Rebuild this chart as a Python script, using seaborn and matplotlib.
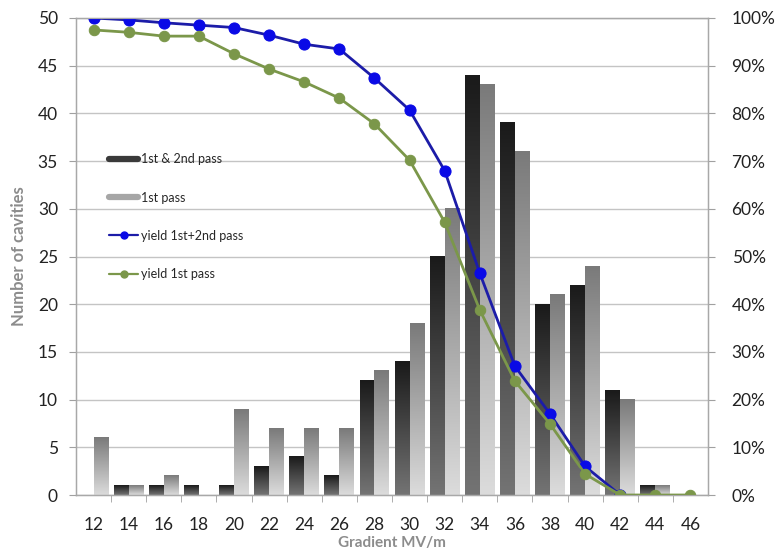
import numpy as np
import pandas as pd
import matplotlib
matplotlib.use("Agg")
import matplotlib.pyplot as plt
from matplotlib.colors import LinearSegmentedColormap
from matplotlib.lines import Line2D
import seaborn as sns

# ---- data ----
gradient = [12, 14, 16, 18, 20, 22, 24, 26, 28, 30, 32, 34, 36, 38, 40, 42, 44, 46]
both_pass = [0, 1, 1, 1, 1, 3, 4, 2, 12, 14, 25, 44, 39, 20, 22, 11, 1, 0]
first_pass = [6, 1, 2, 0, 9, 7, 7, 7, 13, 18, 30, 43, 36, 21, 24, 10, 1, 0]
yield_both_x = [12, 14, 16, 18, 20, 22, 24, 26, 28, 30, 32, 34, 36, 38, 40, 42]
yield_both = [100, 99.6, 99.0, 98.5, 98.0, 96.4, 94.5, 93.5, 87.4, 80.7, 68.0, 46.5, 27.0, 17.0, 6.0, 0.0]
yield_first = [97.5, 97.0, 96.2, 96.2, 92.5, 89.3, 86.6, 83.2, 77.8, 70.2, 57.2, 38.8, 23.9, 14.9, 4.4, 0.0, 0.0, 0.0]
series_names = ["1st & 2nd pass", "1st pass"]
line_names = ["yield 1st+2nd pass", "yield 1st pass"]
left_ticks = [0, 5, 10, 15, 20, 25, 30, 35, 40, 45, 50]
right_ticks = [0, 10, 20, 30, 40, 50, 60, 70, 80, 90, 100]

sns.set_style("white")
plt.rcParams["font.family"] = ["Lato", "DejaVu Sans"]

df = pd.DataFrame({
    "gradient": gradient * 2,
    "count": both_pass + first_pass,
    "series": [series_names[0]] * len(gradient) + [series_names[1]] * len(gradient),
})

fig = plt.figure(figsize=(7.81, 5.57), dpi=100)
ax = fig.add_axes([76 / 781, 62 / 557, 632 / 781, 477 / 557])

dark_key = "#111111"
light_key = "#999999"
sns.barplot(data=df, x="gradient", y="count", hue="series", native_scale=True,
            palette=[dark_key, light_key], width=0.85, ax=ax, legend=False,
            err_kws={"linewidth": 0})

cmap_dark = LinearSegmentedColormap.from_list("d", ["#747474", "#1a1a1a"])
cmap_light = LinearSegmentedColormap.from_list("l", ["#dcdcdc", "#7a7a7a"])
grad = np.linspace(1, 0, 256).reshape(-1, 1)
for p in list(ax.patches):
    h = p.get_height()
    if h <= 0:
        continue
    x0 = p.get_x()
    w = p.get_width()
    fc = p.get_facecolor()
    cm = cmap_dark if fc[0] < 0.3 else cmap_light
    ax.imshow(grad, extent=[x0, x0 + w, 0, h], cmap=cm, aspect="auto",
              origin="upper", zorder=2, interpolation="bilinear")
    p.set_visible(False)

ax.set_xlim(11, 47)
ax.set_ylim(0, 50)
ax.set_yticks(left_ticks)
ax.set_xticks(gradient)
ax.set_xticks(np.arange(13, 47, 2), minor=True)
ax.tick_params(axis="x", which="major", length=0, labelsize=12.5, pad=16, colors="#222222")
ax.tick_params(axis="x", which="minor", length=5, color="#a0a0a0", direction="out", bottom=True)
ax.tick_params(axis="y", length=5, color="#a0a0a0", labelsize=12.5, left=True, colors="#222222", pad=8)
ax.tick_params(axis="y", which="major", color="#a0a0a0")
ax.yaxis.grid(True, color="#c4c4c4", linewidth=1.0)
ax.set_axisbelow(True)
for s in ax.spines.values():
    s.set_color("#a8a8a8")
    s.set_linewidth(1.0)
ax.set_xlabel("Gradient MV/m", color="#8c8c8c", fontsize=11, fontweight="bold", labelpad=2)
ax.set_ylabel("Number of cavities", color="#8c8c8c", fontsize=12, fontweight="bold", labelpad=8)

ax2 = ax.twinx()
sns.lineplot(x=yield_both_x, y=yield_both, ax=ax2, color="#1c1ca8", linewidth=2.0,
             marker="o", markersize=8, markerfacecolor="#0a0ae6", markeredgecolor="#0a0ae6")
sns.lineplot(x=gradient, y=yield_first, ax=ax2, color="#7b974a", linewidth=2.0,
             marker="o", markersize=7.5, markerfacecolor="#7b974a", markeredgecolor="#7b974a")
ax2.set_ylim(0, 100)
ax2.set_yticks(right_ticks)
ax2.set_yticklabels([f"{t}%" for t in right_ticks])
ax2.tick_params(axis="y", length=5, color="#a0a0a0", labelsize=12.5, right=True, colors="#222222", pad=12)
for s in ax2.spines.values():
    s.set_color("#a8a8a8")
ax2.set_xlim(11, 47)

handles = [
    Line2D([0], [0], color="#3a3a3a", linewidth=4.5),
    Line2D([0], [0], color="#a6a6a6", linewidth=4.5),
    Line2D([0], [0], color="#1c1ca8", linewidth=1.6, marker="o", markersize=5,
           markerfacecolor="#0a0ae6", markeredgecolor="#0a0ae6"),
    Line2D([0], [0], color="#7b974a", linewidth=1.6, marker="o", markersize=5,
           markerfacecolor="#7b974a", markeredgecolor="#7b974a"),
]
ax2.legend(handles, series_names + line_names, loc="upper left",
           bbox_to_anchor=(0.035, 0.74), frameon=False, fontsize=9,
           labelspacing=2.1, handlelength=2.3, handletextpad=0.2)

fig.savefig("out.png", dpi=100)
